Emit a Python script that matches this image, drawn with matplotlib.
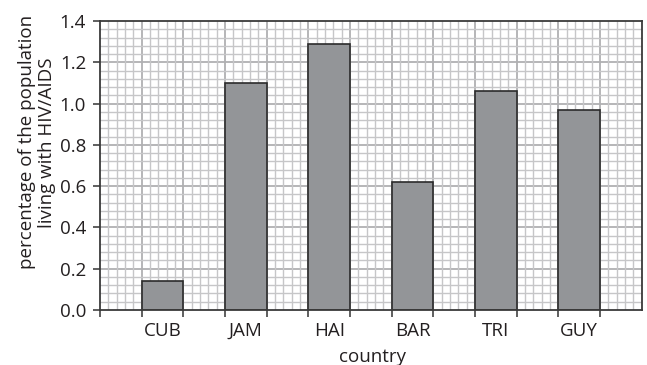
import matplotlib
matplotlib.use('Agg')
import matplotlib.pyplot as plt
import numpy as np

countries = ['CUB', 'JAM', 'HAI', 'BAR', 'TRI', 'GUY']
hiv_pct = [0.14, 1.10, 1.29, 0.62, 1.06, 0.97]

plt.rcParams['font.family'] = ['Open Sans', 'DejaVu Sans']
txt = '#231f20'

fig = plt.figure(figsize=(6.47, 3.65), dpi=100)
ax = fig.add_axes([0.1546, 0.1507, 0.8374, 0.7918])

pos = np.arange(len(countries)) * 2 + 1.5
ax.bar(pos, hiv_pct, width=1.0, color='#939598', edgecolor='#2b2b2b',
       linewidth=1.2, zorder=3)

ax.set_xlim(0, 13)
ax.set_ylim(0, 1.4)

# graph paper grid
ax.set_xticks(np.arange(0, 13.01, 0.2), minor=True)
ax.set_yticks(np.arange(0, 1.401, 0.04), minor=True)
ax.grid(which='minor', color='#c6c6c8', linewidth=1.0, zorder=0)
for xv in range(1, 13):
    ax.axvline(xv, color='#b0b0b2', linewidth=1.3, zorder=1)
for yv in np.arange(0.2, 1.4, 0.2):
    ax.axhline(yv, color='#b0b0b2', linewidth=1.3, zorder=1)

ax.set_xticks(range(0, 13))
ax.set_xticklabels([])
ax.set_yticks(np.arange(0, 1.41, 0.2))
ax.set_yticklabels(['%.1f' % v for v in np.arange(0, 1.41, 0.2)], fontsize=13.5)
for p, c in zip(pos, countries):
    ax.text(p, -0.1, c, ha='center', va='center', fontsize=13.5, color=txt)
ax.tick_params(which='minor', length=0)
ax.tick_params(which='major', direction='out', length=5, width=1.1,
               color='#333333', labelcolor=txt, pad=5)

for s in ax.spines.values():
    s.set_color('#3a3a3a')
    s.set_linewidth(1.3)
    s.set_zorder(4)

fig.text(0.575, 8 / 365, 'country', ha='center', va='center',
         fontsize=13.5, color=txt)
fig.text(37 / 647, 0.61, 'percentage of the population\nliving with HIV/AIDS',
         ha='center', va='center', rotation=90, fontsize=13.5, color=txt,
         linespacing=1.2)

fig.savefig('out.png', dpi=100)
